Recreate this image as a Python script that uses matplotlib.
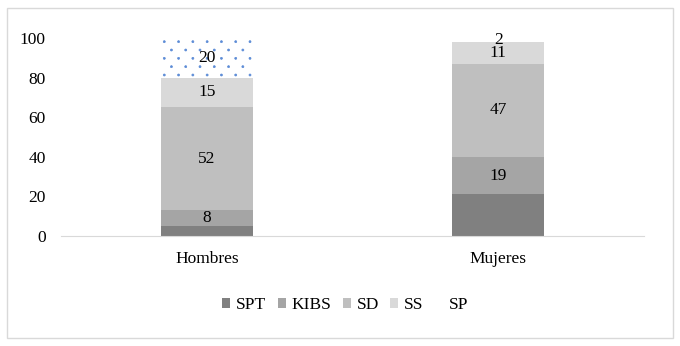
import matplotlib.pyplot as plt
import matplotlib.patches as mpatches
import matplotlib.hatch as mhatch
from matplotlib.path import Path
import numpy as np

plt.rcParams['font.family'] = ['Liberation Serif', 'DejaVu Serif']

categories = ['Hombres', 'Mujeres']
series = ['SPT', 'KIBS', 'SD', 'SS', 'SP']
values = {
    'SPT': [5, 21],
    'KIBS': [8, 19],
    'SD': [52, 47],
    'SS': [15, 11],
    'SP': [20, 2],
}
show_label = {
    'SPT': [False, False],
    'KIBS': [True, True],
    'SD': [True, True],
    'SS': [True, True],
    'SP': [True, True],
}
colors = ['#808080', '#a5a5a5', '#bfbfbf', '#d9d9d9', 'white']


# small staggered dots, like the excel "5%" pattern
class FineDots(mhatch.HatchPatternBase):
    rows = 12
    cols = 7
    radius = 0.01

    def __init__(self, hatch, density):
        circle = Path.unit_circle()
        self.shape_vertices = circle.vertices * self.radius
        self.shape_codes = circle.codes
        self.centers = []
        if hatch.count('.') > 0:
            for r in range(self.rows + 1):
                y = r / self.rows
                if r % 2 == 0:
                    xs = np.linspace(0, 1, self.cols + 1)
                else:
                    xs = np.linspace(0.5 / self.cols, 1 - 0.5 / self.cols, self.cols)
                for xx in xs:
                    self.centers.append((xx, y))
        self.num_vertices = len(self.centers) * len(self.shape_vertices)

    def set_vertices_and_codes(self, vertices, codes):
        n = len(self.shape_vertices)
        for i, (cx, cy) in enumerate(self.centers):
            vertices[i * n:(i + 1) * n] = self.shape_vertices + (cx, cy)
            codes[i * n:(i + 1) * n] = self.shape_codes


mhatch._hatch_types = [t for t in mhatch._hatch_types
                       if t is not mhatch.SmallFilledCircles] + [FineDots]
plt.rcParams['hatch.linewidth'] = 0.5

fig = plt.figure(figsize=(6.8, 3.46), dpi=100)
fig.patches.append(mpatches.Rectangle((0.011, 0.023), 0.978, 0.955, transform=fig.transFigure,
                                      fill=False, edgecolor='#d9d9d9', linewidth=1))
ax = fig.add_axes([0.09, 0.318, 0.857, 0.572])

x = np.arange(len(categories))
bottom = np.zeros(len(categories))
handles = []
for name, col in zip(series, colors):
    vals = np.array(values[name], dtype=float)
    if name == 'SP':
        bars = ax.bar(x, vals, 0.316, bottom=bottom, color='white', edgecolor='#5b8bd6',
                      hatch='.', linewidth=0)
        # the thin band shows no dots in the original
        for b, v in zip(bars, vals):
            if v < 4:
                b.set_hatch(None)
        h = mpatches.Patch(facecolor='white', edgecolor='white', label=name)
    else:
        ax.bar(x, vals, 0.316, bottom=bottom, color=col, linewidth=0)
        h = mpatches.Patch(facecolor=col, label=name)
    handles.append(h)
    for i, v in enumerate(vals):
        if show_label[name][i]:
            ax.text(x[i], bottom[i] + v / 2, str(int(v)), ha='center', va='center',
                    fontsize=12.5, color='black')
    bottom += vals

ax.set_xlim(-0.5, 1.5)
ax.set_ylim(0, 100)
ax.set_yticks(np.arange(0, 101, 20))
ax.set_xticks(x)
ax.set_xticklabels(categories, fontsize=12.5)
ax.tick_params(axis='y', length=0, labelsize=12.5, pad=11)
ax.tick_params(axis='x', length=0, pad=11)
for s in ['top', 'right', 'left']:
    ax.spines[s].set_visible(False)
ax.spines['bottom'].set_color('#d9d9d9')

fig.legend(handles=handles, loc='center', bbox_to_anchor=(0.508, 0.118), ncol=5, frameon=False,
           fontsize=12.5, handlelength=0.45, handleheight=0.45, handletextpad=0.35,
           columnspacing=0.65)

fig.savefig('out.png', dpi=100)
